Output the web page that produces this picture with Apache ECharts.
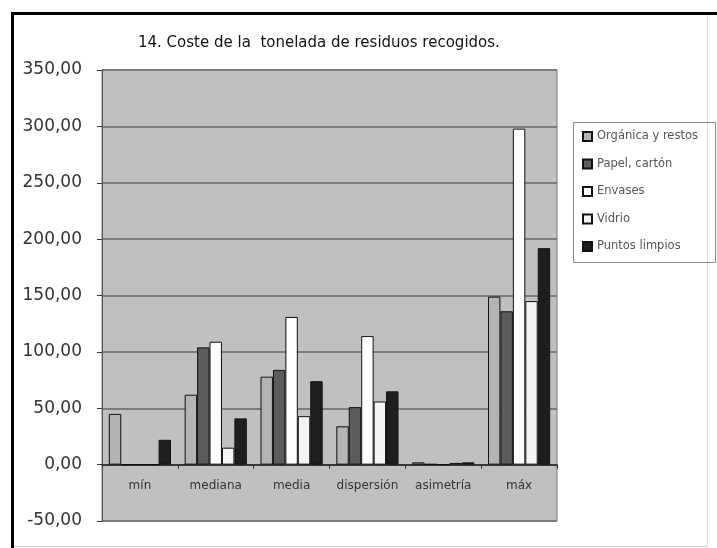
<!DOCTYPE html>
<html>
<head>
<meta charset="utf-8">
<script src="https://cdn.jsdelivr.net/npm/echarts@6/dist/echarts.min.js"></script>
<style>
html,body{margin:0;padding:0;background:#fff;}
#chart{width:717px;height:548px;}
</style>
</head>
<body>
<div id="chart"></div>
<script>
var categories = ['mín', 'mediana', 'media', 'dispersión', 'asimetría', 'máx'];
var seriesNames = ['Orgánica y restos', 'Papel, cartón', 'Envases', 'Vidrio', 'Puntos limpios'];
var organica = [45, 62, 78, 34, 2, 149];
var papel = [0, 104, 84, 51, 0.5, 136];
var envases = [0, 109, 131, 114, 0, 298];
var vidrio = [0, 15, 43, 56, 1.5, 145];
var puntos = [22, 41, 74, 65, 2, 192];
var yTicks = {min: -50, max: 350, interval: 50};

var colors = ['#b4b4b4', '#5c5c5c', '#ffffff', '#f4f4f4', '#1e1e1e'];
var values = [organica, papel, envases, vidrio, puntos];

var gridTop = 70, gridBottom = 27, chartH = 548;
var plotH = chartH - gridTop - gridBottom;
// shift of the category axis from the bottom edge up to the zero line
var zeroOffset = -plotH * (0 - yTicks.min) / (yTicks.max - yTicks.min);

var chart = echarts.init(document.getElementById('chart'), null, {renderer: 'canvas'});
var series = values.map(function (v, i) {
  return {
    name: seriesNames[i],
    type: 'bar',
    data: v,
    barGap: '0%',
    barCategoryGap: '18%',
    itemStyle: {color: colors[i], borderColor: '#111', borderWidth: 1},
    emphasis: {disabled: true}
  };
});

chart.setOption({
  animation: false,
  backgroundColor: '#ffffff',
  title: {
    text: '14. Coste de la  tonelada de residuos recogidos.',
    left: 133,
    top: 31,
    textStyle: {fontFamily: 'DejaVu Sans', fontSize: 15, fontWeight: 'normal', color: '#111'}
  },
  legend: {
    orient: 'vertical',
    left: 577,
    top: 125,
    itemWidth: 9,
    itemHeight: 9,
    itemGap: 14.5,
    icon: 'rect',
    selectedMode: false,
    textStyle: {fontFamily: 'DejaVu Sans', fontSize: 11.5, color: '#555', lineHeight: 13}
  },
  grid: {
    left: 102,
    right: 160,
    top: gridTop,
    bottom: gridBottom,
    show: true,
    backgroundColor: '#c0c0c0',
    borderColor: '#7a7a7a',
    borderWidth: 1
  },
  xAxis: {
    type: 'category',
    data: categories,
    position: 'bottom',
    offset: zeroOffset,
    axisLine: {onZero: false, lineStyle: {color: '#222', width: 1.5}},
    axisTick: {show: true, length: 4, lineStyle: {color: '#333'}},
    axisLabel: {interval: 0, fontFamily: 'DejaVu Sans', fontSize: 12, color: '#333', margin: 15}
  },
  yAxis: {
    type: 'value',
    min: yTicks.min,
    max: yTicks.max,
    interval: yTicks.interval,
    axisLine: {show: true, lineStyle: {color: '#555'}},
    axisTick: {show: true, inside: false, length: 5, lineStyle: {color: '#333'}},
    axisLabel: {
      fontFamily: 'DejaVu Sans', fontSize: 17, color: '#333', margin: 20,
      formatter: function (v) { return v.toFixed(2).replace('.', ','); }
    },
    splitLine: {show: true, lineStyle: {color: '#7c7c7c', width: 2}}
  },
  graphic: [
    {type: 'rect', shape: {x: 573.5, y: 122.5, width: 142, height: 140}, style: {fill: 'none', stroke: '#8a8a8a', lineWidth: 1}, z: 1},
    {type: 'line', shape: {x1: 11, y1: 13.5, x2: 717, y2: 13.5}, style: {stroke: '#000', lineWidth: 3}},
    {type: 'line', shape: {x1: 12.5, y1: 12, x2: 12.5, y2: 548}, style: {stroke: '#000', lineWidth: 3}},
    {type: 'line', shape: {x1: 707.5, y1: 15, x2: 707.5, y2: 546}, style: {stroke: '#dcdcdc', lineWidth: 1}},
    {type: 'line', shape: {x1: 14, y1: 546.5, x2: 708, y2: 546.5}, style: {stroke: '#d0d0d0', lineWidth: 1}}
  ],
  series: series
});
</script>
</body>
</html>
